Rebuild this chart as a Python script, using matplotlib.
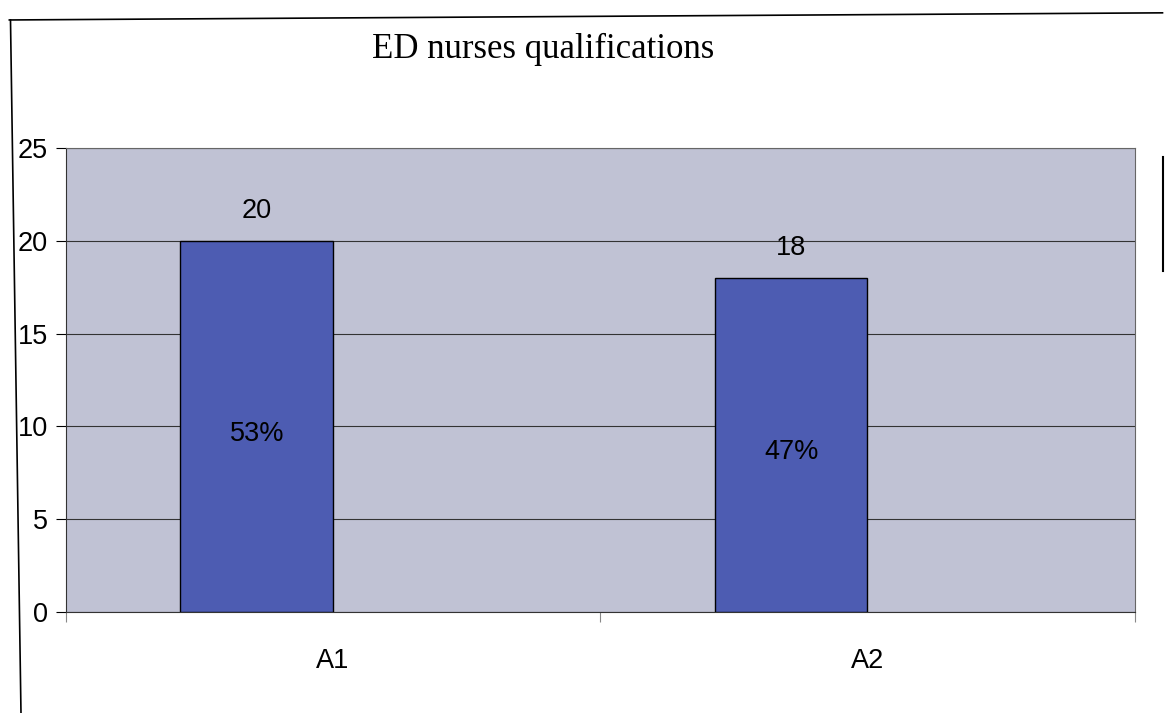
"""ED nurses qualifications: two-bar chart, Excel-style, saved to out.png."""
import matplotlib
matplotlib.use("Agg")
import matplotlib.pyplot as plt
from matplotlib.lines import Line2D

CATEGORIES = ["A1", "A2"]
COUNTS = [20, 18]
SHARE_LABELS = ["53%", "47%"]
YTICKS = [0, 5, 10, 15, 20, 25]

BG = "#c0c2d4"
BAR = "#4d5cb2"
FS = 19.5

fig = plt.figure(figsize=(11.66, 7.13), dpi=100)
ax = fig.add_axes([0.0566, 0.1417, 0.9164, 0.6507])
ax.set_facecolor(BG)

# Excel clustered layout: 2 series, gap 150% -> bar sits left of category centre
w = 1 / 3.5
xs = [i - w / 2 for i in range(len(CATEGORIES))]
ax.bar(xs, COUNTS, w, color=BAR, edgecolor="black", linewidth=1.0, zorder=3)
for x, v, s in zip(xs, COUNTS, SHARE_LABELS):
    ax.text(x, v + 0.9, str(v), ha="center", va="bottom", fontsize=FS, family="Liberation Sans")
    ax.text(x, v / 2 - 0.4, s, ha="center", va="center", fontsize=FS, family="Liberation Sans")

ax.set_xlim(-0.5, len(CATEGORIES) - 0.5)
ax.set_ylim(0, 25)
ax.set_yticks(YTICKS)
ax.set_yticklabels([str(t) for t in YTICKS], fontsize=FS, family="Liberation Sans")
ax.set_xticks(range(len(CATEGORIES)))
ax.set_xticklabels(CATEGORIES, fontsize=FS, family="Liberation Sans")
ax.tick_params(axis="x", length=0, pad=26)
ax.tick_params(axis="y", length=7, width=0.8, pad=6)
ax.set_xticks([-0.5, 0.5, 1.5], minor=True)
ax.tick_params(axis="x", which="minor", length=7, width=0.8, colors="#888888")
ax.grid(axis="y", color="#333333", linewidth=0.8, zorder=1)
for side in ["top", "right"]:
    ax.spines[side].set_color("#666666")
for side in ["left", "bottom"]:
    ax.spines[side].set_color("#333333")

# page title, as in the scan
fig.text(0.466, 0.93, "ED nurses qualifications", ha="center", va="center",
         fontsize=25, family="Liberation Serif")

# outer chart border (bottom edge not in the scan)
fig.add_artist(Line2D([0.008, 0.997], [0.972, 0.982], color="black", linewidth=1.2))
fig.add_artist(Line2D([0.009, 0.018], [0.972, 0.0], color="black", linewidth=1.2))
fig.add_artist(Line2D([0.9975, 0.9975], [0.78, 0.62], color="black", linewidth=1.5))

fig.savefig("out.png", dpi=100)
